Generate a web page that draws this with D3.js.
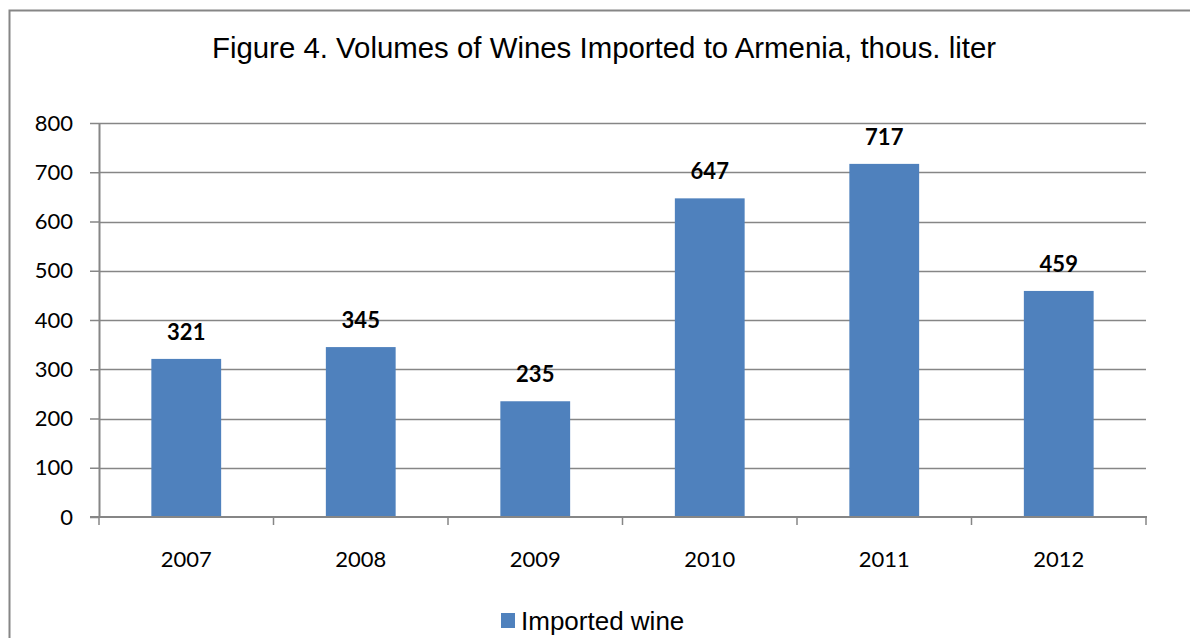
<!DOCTYPE html>
<html>
<head>
<meta charset="utf-8">
<script src="https://cdn.jsdelivr.net/npm/d3@7/dist/d3.min.js"></script>
<style>
  html, body { margin: 0; padding: 0; background: #fff; }
  svg { display: block; }
</style>
</head>
<body>
<svg id="chart" width="1190" height="638"></svg>
<script>
// Wine import volumes, thousand liters
const years = ["2007", "2008", "2009", "2010", "2011", "2012"];
const importedWine = [321, 345, 235, 647, 717, 459];
const yTicks = [0, 100, 200, 300, 400, 500, 600, 700, 800];
const chartTitle = "Figure 4. Volumes of Wines Imported to Armenia, thous. liter";
const seriesName = "Imported wine";

const W = 1190, H = 638;
const plot = { left: 99, right: 1146, top: 123, bottom: 517 };
const barColor = "#4F81BD";
const lineColor = "#868686";
const numFont = "Lato, 'Open Sans', sans-serif";
const textFont = "'Liberation Sans', Arial, sans-serif";

const svg = d3.select("#chart");

// outer chart frame (extends past the right and bottom edges)
svg.append("rect")
  .attr("x", 9.5).attr("y", 10.5)
  .attr("width", W + 20).attr("height", H + 20)
  .attr("fill", "#fff")
  .attr("stroke", lineColor)
  .attr("stroke-width", 2);

const x = d3.scaleBand()
  .domain(years)
  .range([plot.left, plot.right])
  .paddingInner(0.6)
  .paddingOuter(0.3);

const y = d3.scaleLinear()
  .domain([0, 800])
  .range([plot.bottom, plot.top]);

// horizontal gridlines
svg.append("g")
  .selectAll("line")
  .data(yTicks.filter(d => d > 0))
  .join("line")
  .attr("x1", plot.left).attr("x2", plot.right)
  .attr("y1", d => Math.round(y(d)) + 0.5)
  .attr("y2", d => Math.round(y(d)) + 0.5)
  .attr("stroke", lineColor)
  .attr("stroke-width", 1.3);

// bars
svg.append("g")
  .selectAll("rect")
  .data(importedWine)
  .join("rect")
  .attr("x", (d, i) => x(years[i]))
  .attr("width", x.bandwidth())
  .attr("y", d => y(d))
  .attr("height", d => y(0) - y(d))
  .attr("fill", barColor);

// value labels
svg.append("g")
  .selectAll("text")
  .data(importedWine)
  .join("text")
  .attr("x", (d, i) => x(years[i]) + x.bandwidth() / 2)
  .attr("y", d => y(d) - 19)
  .attr("text-anchor", "middle")
  .attr("font-family", numFont)
  .attr("font-weight", "bold")
  .attr("font-size", 22)
  .attr("fill", "#000")
  .text(d => d);

// y axis
const yAxis = svg.append("g")
  .attr("transform", `translate(${plot.left},0)`)
  .call(d3.axisLeft(y).tickValues(yTicks).tickSize(9).tickPadding(17).tickSizeOuter(0));
yAxis.select(".domain").attr("stroke", lineColor).attr("stroke-width", 2);
yAxis.selectAll(".tick line").attr("stroke", lineColor).attr("stroke-width", 1.5);
yAxis.selectAll(".tick text")
  .attr("font-family", numFont)
  .attr("font-size", 22)
  .attr("fill", "#000");

// x axis with tick marks at category boundaries
const xAxisG = svg.append("g");
xAxisG.append("line")
  .attr("x1", plot.left - 9).attr("x2", plot.right + 1)
  .attr("y1", plot.bottom).attr("y2", plot.bottom)
  .attr("stroke", lineColor).attr("stroke-width", 2);
const boundaries = d3.range(years.length + 1).map(i => plot.left + i * (plot.right - plot.left) / years.length);
xAxisG.selectAll("line.b")
  .data(boundaries)
  .join("line")
  .attr("class", "b")
  .attr("x1", d => d).attr("x2", d => d)
  .attr("y1", plot.bottom).attr("y2", plot.bottom + 8)
  .attr("stroke", lineColor).attr("stroke-width", 1.5);
xAxisG.selectAll("text")
  .data(years)
  .join("text")
  .attr("x", d => x(d) + x.bandwidth() / 2)
  .attr("y", 567)
  .attr("text-anchor", "middle")
  .attr("font-family", numFont)
  .attr("font-size", 22)
  .attr("fill", "#000")
  .text(d => d);

// title
svg.append("text")
  .attr("x", 604)
  .attr("y", 58)
  .attr("text-anchor", "middle")
  .attr("font-family", textFont)
  .attr("font-size", 29.4)
  .attr("fill", "#000")
  .text(chartTitle);

// legend
const legend = svg.append("g");
legend.append("rect")
  .attr("x", 501).attr("y", 613)
  .attr("width", 14).attr("height", 15)
  .attr("fill", barColor);
legend.append("text")
  .attr("x", 521).attr("y", 630)
  .attr("font-family", textFont)
  .attr("font-size", 26)
  .attr("fill", "#000")
  .text(seriesName);
</script>
</body>
</html>
